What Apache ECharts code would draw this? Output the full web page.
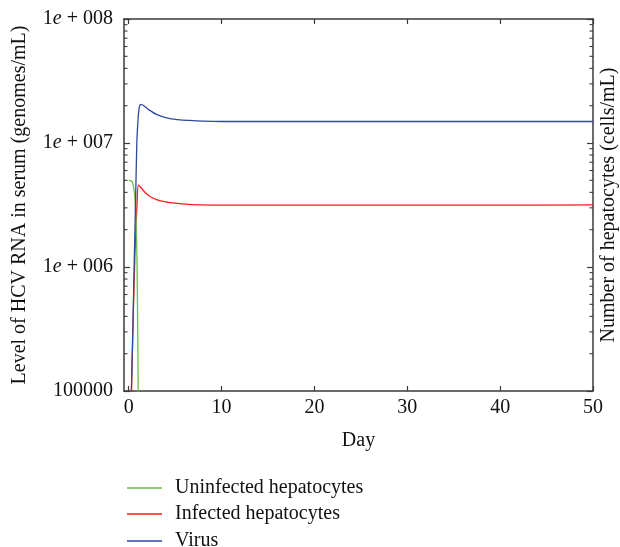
<!DOCTYPE html>
<html>
<head>
<meta charset="utf-8">
<script src="https://cdn.jsdelivr.net/npm/echarts@6/dist/echarts.min.js"></script>
<style>html,body{margin:0;padding:0;background:#fff}#c{width:620px;height:547px}</style>
</head>
<body>
<div id="c"></div>
<script>
// ---- data ----
const xTicks = [0, 10, 20, 30, 40, 50];
const yMajor = [1e5, 1e6, 1e7, 1e8];
const yMinor = [2e5,3e5,4e5,5e5,6e5,7e5,8e5,9e5,2e6,3e6,4e6,5e6,6e6,7e6,8e6,9e6,2e7,3e7,4e7,5e7,6e7,7e7,8e7,9e7];
const yLabels = {'100000':'100000','1000000':'1{i|e} + 006','10000000':'1{i|e} + 007','100000000':'1{i|e} + 008'};
const seriesNames = ['Uninfected hepatocytes', 'Infected hepatocytes', 'Virus'];

const uninfectedDay = [0, 0.3, 0.45, 0.6, 0.72, 0.82, 0.9, 0.97, 1.03, 1.1];
const uninfectedVal = [5.0e6, 4.95e6, 4.7e6, 4.1e6, 3.2e6, 2.1e6, 1.1e6, 3.5e5, 9e4, 1e4];

const infectedDay = [0.25, 0.3, 0.45, 0.6, 0.75, 0.9, 1.05, 1.3, 1.7, 2.3, 3, 4, 5, 6.5, 8, 10, 20, 30, 40, 50];
const infectedVal = [5e4, 1e5, 3e5, 8e5, 1.8e6, 3.2e6, 4.6e6, 4.4e6, 4.05e6, 3.7e6, 3.5e6, 3.35e6, 3.27e6, 3.2e6, 3.17e6, 3.15e6, 3.15e6, 3.15e6, 3.15e6, 3.17e6];

const virusDay = [0.25, 0.3, 0.45, 0.6, 0.75, 0.88, 1.0, 1.15, 1.35, 1.7, 2.2, 3, 4, 5, 6.5, 8, 10, 20, 30, 40, 50];
const virusVal = [5e4, 1e5, 3e5, 1.1e6, 3.5e6, 1e7, 1.5e7, 1.95e7, 2.05e7, 1.98e7, 1.85e7, 1.7e7, 1.6e7, 1.55e7, 1.52e7, 1.5e7, 1.49e7, 1.49e7, 1.49e7, 1.49e7, 1.49e7];

const zip = (a, b) => a.map((v, i) => [v, b[i]]);
const FONT = '"Liberation Serif", "DejaVu Serif", serif';
const FS = 20;
const TXT = '#111';
const AX = '#3a3a3a';
const X_MIN = -0.5, X_MAX = 50, Y_MIN = 1e5, Y_MAX = 1e8;

const chart = echarts.init(document.getElementById('c'), null, {renderer: 'canvas'});
const baseX = {
  type: 'value', min: X_MIN, max: X_MAX,
  axisLine: {show: true, onZero: false, lineStyle: {color: AX, width: 1.5}},
  axisTick: {show: true, inside: true, length: 5, customValues: xTicks, lineStyle: {color: AX, width: 1.2}},
  splitLine: {show: false}
};
const baseY = {
  type: 'log', logBase: 10, min: Y_MIN, max: Y_MAX,
  axisLine: {show: true, onZero: false, lineStyle: {color: AX, width: 1.5}},
  axisTick: {show: true, inside: true, length: 6, lineStyle: {color: AX, width: 1.2}},
  splitLine: {show: false}
};
const legendTops = [473, 499, 526];
chart.setOption({
  animation: false,
  backgroundColor: '#fff',
  textStyle: {fontFamily: FONT},
  grid: {left: 124, right: 27, top: 19, bottom: 156, containLabel: false, outerBoundsMode: 'none'},
  xAxis: [
    Object.assign({}, baseX, {
      position: 'bottom', name: 'Day', nameLocation: 'middle', nameGap: 40,
      nameTextStyle: {fontFamily: FONT, fontSize: FS, color: TXT},
      axisLabel: {show: true, customValues: xTicks, margin: 7, fontFamily: FONT, fontSize: FS, color: TXT}
    }),
    Object.assign({}, baseX, {position: 'top', axisLabel: {show: false}})
  ],
  yAxis: [
    Object.assign({}, baseY, {
      position: 'left', name: 'Level of HCV RNA in serum (genomes/mL)', nameLocation: 'middle', nameGap: 94,
      nameRotate: 90,
      nameTextStyle: {fontFamily: FONT, fontSize: FS, color: TXT},
      axisLabel: {show: true, margin: 11, fontFamily: FONT, fontSize: FS, color: TXT,
        formatter: v => yLabels[String(Math.round(v))] || '',
        rich: {i: {fontFamily: FONT, fontSize: FS, fontStyle: 'italic', color: TXT}}}
    }),
    Object.assign({}, baseY, {
      position: 'right', name: 'Number of hepatocytes (cells/mL)', nameLocation: 'middle', nameGap: 6,
      nameRotate: 90,
      nameTextStyle: {fontFamily: FONT, fontSize: FS, color: TXT, verticalAlign: 'top'},
      axisLabel: {show: false}
    })
  ],
  legend: seriesNames.map((n, i) => ({
    orient: 'vertical', left: 122, top: legendTops[i], itemWidth: 35, itemHeight: 1.5, itemGap: 0,
    icon: 'rect', data: [n],
    textStyle: {fontFamily: FONT, fontSize: FS, color: TXT, padding: [0, 0, 0, 8], lineHeight: 20}
  })),
  series: [
    {name: seriesNames[0], type: 'line', data: zip(uninfectedDay, uninfectedVal), smooth: 0.3,
      showSymbol: false, color: '#6cbf4a', lineStyle: {width: 1.3, color: '#6cbf4a'}, clip: true, z: 3},
    {name: seriesNames[1], type: 'line', data: zip(infectedDay, infectedVal), smooth: 0.3,
      showSymbol: false, color: '#ff1a1a', lineStyle: {width: 1.3, color: '#ff1a1a'}, clip: true, z: 2},
    {name: seriesNames[2], type: 'line', data: zip(virusDay, virusVal), smooth: 0.3,
      showSymbol: false, color: '#2f4a9c', lineStyle: {width: 1.3, color: '#2f4a9c'}, clip: true, z: 4},
    {name: 'minorTicks', type: 'custom', silent: true, clip: false, z: 5,
      data: yMinor.map(v => [X_MIN, v]),
      renderItem: function (params, api) {
        const v = api.value(1);
        const l = api.coord([X_MIN, v]);
        const r = api.coord([X_MAX, v]);
        const st = {stroke: AX, lineWidth: 1.1};
        return {type: 'group', children: [
          {type: 'line', shape: {x1: l[0], y1: l[1], x2: l[0] + 3.5, y2: l[1]}, style: st},
          {type: 'line', shape: {x1: r[0], y1: r[1], x2: r[0] - 3.5, y2: r[1]}, style: st}
        ]};
      }
    }
  ]
});
</script>
</body>
</html>
